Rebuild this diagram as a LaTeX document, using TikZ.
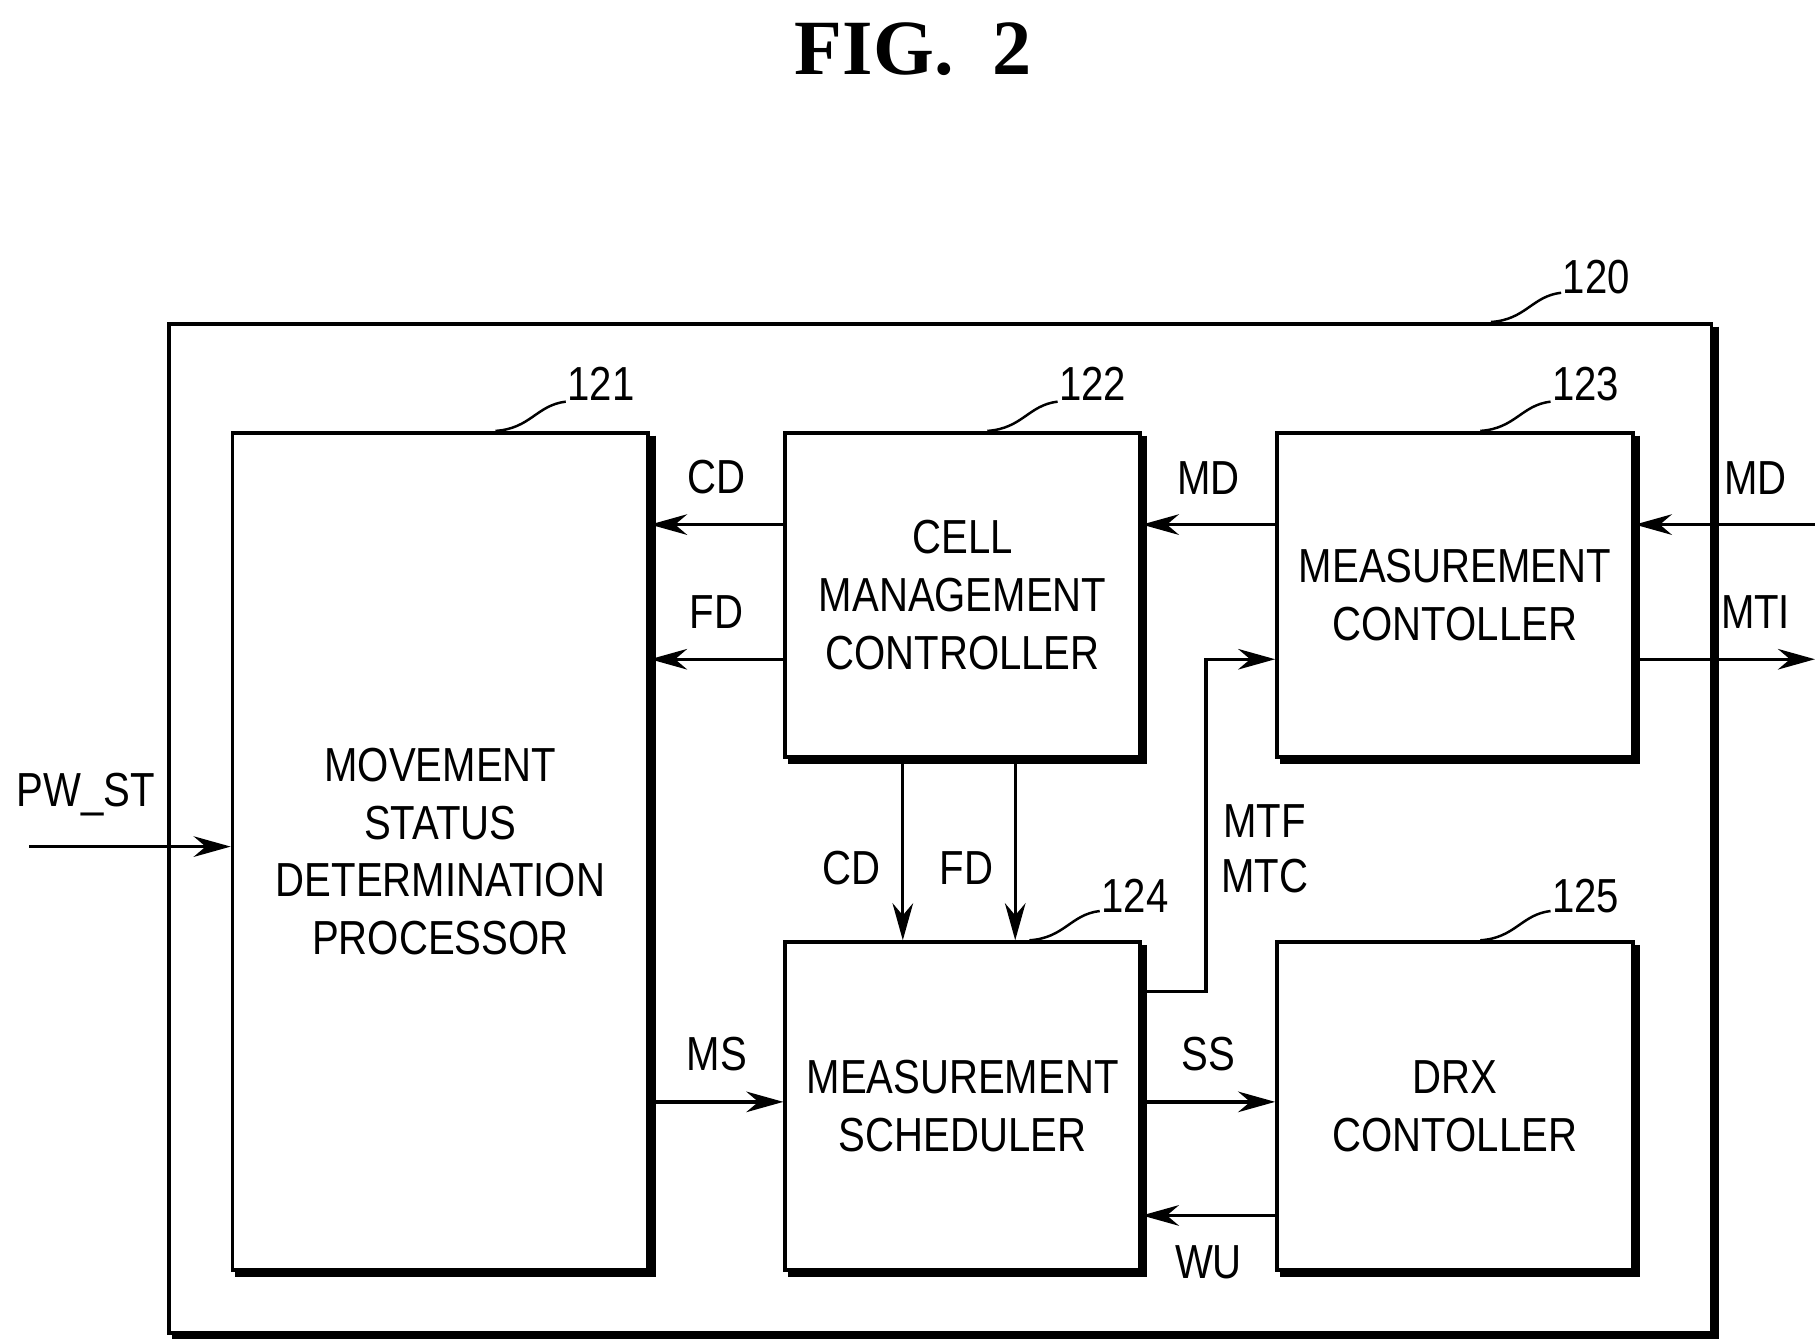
\documentclass[tikz,border=0pt]{standalone}
\usepackage{fontspec}
\setmainfont{Liberation Sans}[FakeStretch=0.84]
\newfontfamily\titlefont{Liberation Serif}
\usetikzlibrary{arrows.meta}
\begin{document}
\begin{tikzpicture}[x=0.01cm,y=-0.01cm,
  box/.style={draw,line width=0.9pt,anchor=north west,inner sep=0pt,align=center,font=\fontsize{11.6}{14}\selectfont},
  lab/.style={font=\fontsize{11.6}{13.5}\selectfont,inner sep=1pt},
  arr/.style={line width=0.8pt,-{Stealth[length=9pt,width=5pt]}},
  lead/.style={line width=0.6pt}]
\useasboundingbox (0,0) rectangle (1550,1143);
\node[font=\titlefont\fontsize{19}{22}\selectfont\bfseries] (title) at (780,42) {FIG.\ \ 2};
\node[box,minimum width=1317*0.01cm,minimum height=862*0.01cm] (b120) at (143,275) {};
\node[box,minimum width=355*0.01cm,minimum height=715*0.01cm] (b121) at (197,368) {MOVEMENT\\STATUS\\DETERMINATION\\PROCESSOR};
\node[box,minimum width=303*0.01cm,minimum height=277*0.01cm] (b122) at (669,368) {CELL\\MANAGEMENT\\CONTROLLER};
\node[box,minimum width=304*0.01cm,minimum height=277*0.01cm] (b123) at (1089,368) {MEASUREMENT\\CONTOLLER};
\node[box,minimum width=303*0.01cm,minimum height=280*0.01cm] (b124) at (669,803) {MEASUREMENT\\SCHEDULER};
\node[box,minimum width=304*0.01cm,minimum height=280*0.01cm] (b125) at (1089,803) {DRX\\CONTOLLER};
\foreach \n in {b120,b121,b122,b123,b124,b125}{
  \draw[line width=1.5pt] ([shift={(2,4)}]\n.north east) -- ([shift={(2,2)}]\n.south east) -- ([shift={(4,2)}]\n.south west);}
\foreach \n/\t/\dx/\dy in {b120/120/-100/-38,b121/121/-42/-40,b122/122/-42/-40,b123/123/-42/-40,b124/124/-6/-38,b125/125/-42/-38}{
  \node[lab] (l\t) at ([shift={(\dx,\dy)}]\n.north east) {\t};
  \draw[lead] ([shift={(\dx-90,0)}]\n.north east) .. controls ([shift={(\dx-60,-2)}]\n.north east) and ([shift={(\dx-55,-22)}]\n.north east) .. ([shift={(\dx-30,-25)}]\n.north east);
}
\coordinate (mdin) at (1550,448);
\coordinate (mtiout) at (1550,563);
\coordinate (pwin) at (25,723);
\draw[arr] (b122.west |- 0,448) -- (b121.east |- 0,448) node[lab,midway,above=6pt] (cd1) {CD};
\draw[arr] (b122.west |- 0,563) -- (b121.east |- 0,563) node[lab,midway,above=6pt] (fd1) {FD};
\draw[arr] (b123.west |- 0,448) -- (b122.east |- 0,448) node[lab,midway,above=6pt] (md1) {MD};
\draw[arr] (mdin) -- (b123.east |- mdin) node[lab,pos=0.33,above=6pt] (md2) {MD};
\draw[arr] (b123.east |- mtiout) -- (mtiout) node[lab,pos=0.67,above=6pt] (mti) {MTI};
\draw[arr] (pwin) -- (b121.west |- pwin) node[lab,pos=0.28,above=6pt] (pw) {PW\_ST};
\draw[arr] (771,0 |- b122.south) -- (771,0 |- b124.north) node[lab,pos=0.6,left=4pt] (cd2) {CD};
\draw[arr] (867,0 |- b122.south) -- (867,0 |- b124.north) node[lab,pos=0.6,left=4pt] (fd2) {FD};
\draw[arr] (b121.east |- 0,941) -- (b124.west |- 0,941) node[lab,midway,above=6pt] (ms) {MS};
\draw[arr] (b124.east |- 0,941) -- (b125.west |- 0,941) node[lab,midway,above=6pt] (ss) {SS};
\draw[arr] (b125.west |- 0,1038) -- (b124.east |- 0,1038) node[lab,midway,below=6pt] (wu) {WU};
\draw[arr] (b124.east |- 0,847) -- (1030,847) -- (1030,563) -- (b123.west |- 0,563);
\node[lab,align=center] (mtf) at (1080,725) {MTF\\MTC};
\end{tikzpicture}
\end{document}
